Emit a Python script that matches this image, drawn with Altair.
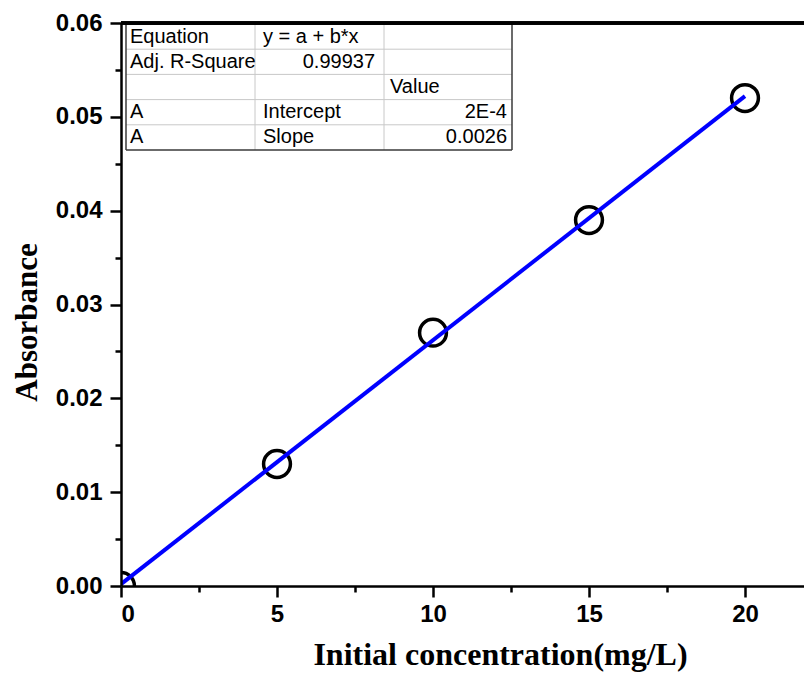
import altair as alt
import pandas as pd

# ---------------- data ----------------
concentration = [0, 5, 10, 15, 20]
absorbance = [0.000, 0.013, 0.027, 0.039, 0.052]

x_major_ticks = [0, 5, 10, 15, 20]
x_minor_ticks = [2.5, 7.5, 12.5, 17.5]
y_major_ticks = [0.00, 0.01, 0.02, 0.03, 0.04, 0.05, 0.06]
y_minor_ticks = [0.005, 0.015, 0.025, 0.035, 0.045, 0.055]

x_title = "Initial concentration(mg/L)"
y_title = "Absorbance"

table_col1 = ["Equation", "Adj. R-Square", "", "A", "A"]
table_col2 = ["y = a + b*x", "0.99937", "", "Intercept", "Slope"]
table_col3 = ["", "", "Value", "2E-4", "0.0026"]
col2_right = [False, True, False, False, False]
col3_right = [False, False, False, True, True]

# ---------------- layout ----------------
PLOT_W, PLOT_H = 683, 563
X_MAX, Y_MAX = 683 / 31.2, 0.06


def to_x(px):
    return px / PLOT_W * X_MAX


def to_y(py):
    return Y_MAX * (1 - py / PLOT_H)


col_edges = [5, 134, 263, 391]
row_edges = [1 + 25.2 * i for i in range(6)]

# table grid lines
rules = []
for i, ry in enumerate(row_edges):
    outer = i in (0, len(row_edges) - 1)
    rules.append(dict(x=to_x(col_edges[0]), x2=to_x(col_edges[-1]), y=to_y(ry), y2=to_y(ry),
                      c="#3a3a3a" if outer else "#c8c8c8", w=1.5 if outer else 1, o=1 if outer else 0))
for i, cx in enumerate(col_edges):
    outer = i in (0, len(col_edges) - 1)
    rules.append(dict(x=to_x(cx), x2=to_x(cx), y=to_y(row_edges[0]), y2=to_y(row_edges[-1]),
                      c="#3a3a3a" if outer else "#c8c8c8", w=1.5 if outer else 1, o=1 if outer else 0))
rules_df = pd.DataFrame(rules).sort_values("o")

left_cells, right_cells = [], []
for r in range(5):
    yc = to_y((row_edges[r] + row_edges[r + 1]) / 2)
    if table_col1[r]:
        left_cells.append(dict(x=to_x(col_edges[0] + 4), y=yc, t=table_col1[r]))
    if table_col2[r]:
        if col2_right[r]:
            right_cells.append(dict(x=to_x(col_edges[2] - 9), y=yc, t=table_col2[r]))
        else:
            left_cells.append(dict(x=to_x(col_edges[1] + 8), y=yc, t=table_col2[r]))
    if table_col3[r]:
        if col3_right[r]:
            right_cells.append(dict(x=to_x(col_edges[3] - 5), y=yc, t=table_col3[r]))
        else:
            left_cells.append(dict(x=to_x(col_edges[2] + 6), y=yc, t=table_col3[r]))
left_df = pd.DataFrame(left_cells)
right_df = pd.DataFrame(right_cells)

df = pd.DataFrame({"conc": concentration, "abs": absorbance})

LABEL_FONT = "Liberation Sans"
TITLE_FONT = "Liberation Serif"

x_scale = alt.Scale(domain=[0, X_MAX], nice=False, zero=False)
y_scale = alt.Scale(domain=[0, Y_MAX], nice=False, zero=False)

x_axis = alt.Axis(
    values=x_major_ticks + x_minor_ticks,
    labelExpr="datum.value % 5 == 0 ? datum.label : ''",
    tickSize={"condition": {"test": "datum.value % 5 == 0", "value": 11}, "value": 6},
    tickWidth=2.5, tickColor="black",
    domainWidth=2.5, domainColor="black",
    labelFont=LABEL_FONT, labelFontWeight="bold", labelFontSize=24, labelColor="black",
    labelPadding=5, grid=False, zindex=1,
    title=x_title, titleFont=TITLE_FONT, titleFontWeight="bold", titleFontSize=32,
    titleColor="black", titleX=379, titleY=78, titleBaseline="alphabetic", titleAlign="center",
)
ytest = "abs(datum.value*100 - round(datum.value*100)) < 0.001"
y_axis = alt.Axis(
    values=y_major_ticks + y_minor_ticks,
    format=".2f",
    labelExpr=f"{ytest} ? datum.label : ''",
    tickSize={"condition": {"test": ytest, "value": 11}, "value": 6},
    tickWidth=2.5, tickColor="black",
    domainWidth=2.5, domainColor="black",
    labelFont=LABEL_FONT, labelFontWeight="bold", labelFontSize=24, labelColor="black",
    labelPadding=8, grid=False, zindex=1,
    title=y_title, titleFont=TITLE_FONT, titleFontWeight="bold", titleFontSize=31,
    titleColor="black", titleX=-85, titleY=299, titleBaseline="alphabetic", titleAlign="center",
    titleAngle=270,
)

points = alt.Chart(df).mark_point(
    shape="circle", size=720, strokeWidth=3.5, color="black", filled=False, clip=True, opacity=1
).encode(
    x=alt.X("conc:Q", scale=x_scale, axis=x_axis),
    y=alt.Y("abs:Q", scale=y_scale, axis=y_axis),
)

fit = alt.Chart(df).transform_regression(
    "conc", "abs", extent=[0, 20]
).mark_line(color="#0000ff", strokeWidth=4, clip=True).encode(
    x="conc:Q", y="abs:Q"
)

top_border = alt.Chart(df).mark_rule(color="black", strokeWidth=3).encode(y=alt.value(0))

table_lines = alt.Chart(rules_df).mark_rule().encode(
    x="x:Q", x2="x2", y="y:Q", y2="y2",
    color=alt.Color("c:N", scale=None), strokeWidth=alt.StrokeWidth("w:Q", scale=None),
)
table_left = alt.Chart(left_df).mark_text(
    align="left", baseline="middle", font=LABEL_FONT, fontSize=20, color="black"
).encode(x="x:Q", y="y:Q", text="t:N")
table_right = alt.Chart(right_df).mark_text(
    align="right", baseline="middle", font=LABEL_FONT, fontSize=20, color="black"
).encode(x="x:Q", y="y:Q", text="t:N")

chart = alt.layer(
    points, fit, table_lines, table_left, table_right, top_border
).properties(
    width=PLOT_W, height=PLOT_H,
    padding={"left": 113, "top": 15, "right": 0, "bottom": 86},
    autosize=alt.AutoSizeParams(type="none"),
).configure_view(stroke=None)

chart.save("out.html", embed_options={"renderer": "svg", "actions": False})
